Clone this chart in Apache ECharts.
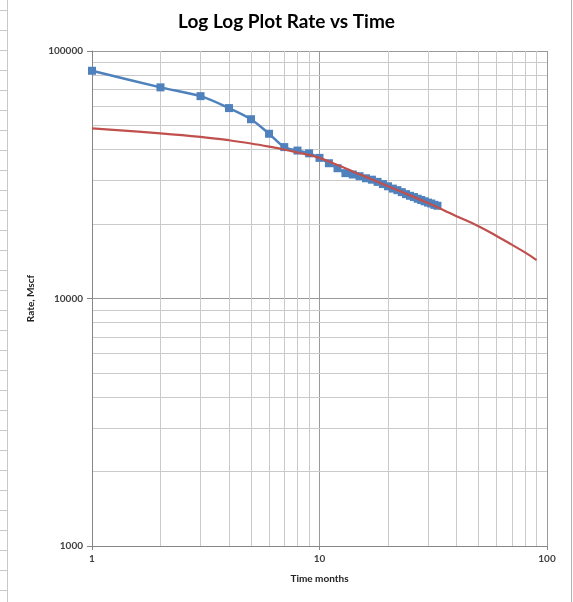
<!DOCTYPE html>
<html>
<head>
<meta charset="utf-8">
<script src="https://cdn.jsdelivr.net/npm/echarts@6/dist/echarts.min.js"></script>
<style>
html,body{margin:0;padding:0;background:#fff;}
#main{width:573px;height:602px;}
</style>
</head>
<body>
<div id="main"></div>
<script>
// ---- data ----
var titleText = 'Log Log Plot Rate vs Time';
var xName = 'Time months';
var yName = 'Rate, Mscf';

var actualMonths = [1,2,3,4,5,6,7,8,9,10,11,12,13,14,15,16,17,18,19,20,21,22,23,24,25,26,27,28,29,30,31,32,33];
var actualRate = [83200,71300,65700,58800,53000,46300,40900,39600,38600,37000,35200,33600,32100,31700,31200,30600,30200,29600,29000,28400,27800,27400,26900,26400,26000,25700,25300,25000,24700,24400,24200,23900,23700];

var fitMonths = [1,2,3,4,5,6,7,8,10,12,14,16,18,20,25,30,35,40,50,60,70,80,90];
var fitRate = [48700,46500,45000,43600,42300,41100,40000,38900,37000,34600,32600,31000,29600,28400,26100,24300,22800,21500,19600,17900,16500,15350,14300];

var xMinorGrid = [2,3,4,5,6,7,8,9,20,30,40,50,60,70,80,90];
var yMinorGrid = [2000,3000,4000,5000,6000,7000,8000,9000,20000,30000,40000,50000,60000,70000,80000,90000];

// ---- chart ----
var chart = echarts.init(document.getElementById('main'), null, {renderer:'canvas'});

function zip(a,b){var r=[];for(var i=0;i<a.length;i++)r.push([a[i],b[i]]);return r;}

var minorLines = [];
xMinorGrid.forEach(function(v){minorLines.push({xAxis:v});});
yMinorGrid.forEach(function(v){minorLines.push({yAxis:v});});

// decorative spreadsheet background
var deco = [
  {type:'line', shape:{x1:7.5,y1:0,x2:7.5,y2:602}, style:{stroke:'#c8c8c8',lineWidth:1}, silent:true, z:-10},
  {type:'line', shape:{x1:571.5,y1:0,x2:571.5,y2:602}, style:{stroke:'#b0b0b0',lineWidth:1}, silent:true, z:-10}
];
for (var yy=10; yy<602; yy+=20){
  deco.push({type:'line', shape:{x1:0,y1:yy+0.5,x2:7,y2:yy+0.5}, style:{stroke:'#c8c8c8',lineWidth:1}, silent:true, z:-10});
}

var option = {
  backgroundColor:'#ffffff',
  animation:false,
  title:{
    text:titleText, left:'center', top:7,
    textStyle:{fontFamily:'Lato', fontWeight:'bold', fontSize:19, color:'#000'}
  },
  graphic: deco,
  grid:{left:92, right:26, top:51, bottom:56, containLabel:false},
  xAxis:{
    type:'log', logBase:10, min:1, max:100,
    name:xName, nameLocation:'middle', nameGap:28,
    nameTextStyle:{fontFamily:'Lato', fontWeight:'bold', fontSize:10, color:'#222'},
    axisLine:{show:true, lineStyle:{color:'#868686', width:1}},
    axisTick:{show:true, length:4, lineStyle:{color:'#868686'}},
    axisLabel:{fontFamily:'Lato', fontSize:10, color:'#404040', margin:8, fontWeight:'bold',
      formatter:function(v){return String(Math.round(v));}},
    splitLine:{show:true, lineStyle:{color:'#9a9a9a', width:1}}
  },
  yAxis:{
    type:'log', logBase:10, min:1000, max:100000,
    name:yName, nameLocation:'middle', nameGap:56, nameRotate:90,
    nameTextStyle:{fontFamily:'Lato', fontWeight:'bold', fontSize:10, color:'#222'},
    axisLine:{show:true, lineStyle:{color:'#868686', width:1}},
    axisTick:{show:true, length:5, lineStyle:{color:'#868686'}},
    axisLabel:{fontFamily:'Lato', fontSize:10, color:'#404040', margin:9, fontWeight:'bold',
      formatter:function(v){return String(Math.round(v));}},
    splitLine:{show:true, lineStyle:{color:'#9a9a9a', width:1}}
  },
  series:[
    {
      name:'grid', type:'line', data:[], silent:true, z:0,
      markLine:{silent:true, symbol:['none','none'], label:{show:false}, z:0,
        lineStyle:{color:'#cacaca', width:1, type:'solid'}, animation:false,
        emphasis:{disabled:true}, data:minorLines}
    },
    {
      name:'Actual', type:'line', data:zip(actualMonths, actualRate),
      smooth:0.3, symbol:'rect', symbolSize:8, showSymbol:true,
      itemStyle:{color:'#4F81BD', borderWidth:0}, lineStyle:{color:'#4F81BD', width:2.5}, z:5
    },
    {
      name:'Fit', type:'line', data:zip(fitMonths, fitRate),
      smooth:0.4, symbol:'none', showSymbol:false,
      lineStyle:{color:'#C0504D', width:2.2}, itemStyle:{color:'#C0504D'}, z:6
    }
  ]
};
chart.setOption(option);
</script>
</body>
</html>
